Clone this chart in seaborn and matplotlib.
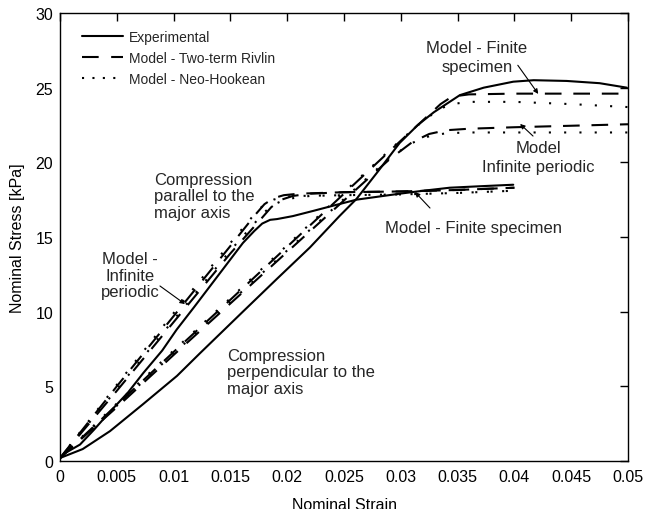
import matplotlib
matplotlib.use("Agg")
import matplotlib.pyplot as plt
from matplotlib.lines import Line2D
import numpy as np
import pandas as pd
import seaborn as sns

# ---------------- data ----------------
# Experimental, compression parallel to the major axis
strain_exp_par = [0, 0.0005, 0.00176, 0.003, 0.0044, 0.006, 0.00734, 0.009, 0.01027, 0.0118,
                  0.0132, 0.0147, 0.0161, 0.0171, 0.0178, 0.0185, 0.0191, 0.0205, 0.0223,
                  0.0238, 0.0261, 0.028, 0.0299, 0.032, 0.0343, 0.037, 0.0399]
stress_exp_par = [0.2, 0.55, 1.1, 2.1, 3.3, 4.6, 5.9, 7.4, 8.8, 10.3,
                  11.7, 13.2, 14.6, 15.4, 15.9, 16.15, 16.2, 16.4, 16.75,
                  17.05, 17.5, 17.7, 17.9, 18.1, 18.3, 18.4, 18.5]

# Experimental, compression perpendicular to the major axis
strain_exp_perp = [0, 0.002, 0.0044, 0.0073, 0.0103, 0.0123, 0.0161, 0.0191, 0.022, 0.0246,
                   0.0261, 0.028, 0.0299, 0.0315, 0.0329, 0.0352, 0.0373, 0.0399, 0.0417,
                   0.0446, 0.0475, 0.0499]
stress_exp_perp = [0.2, 0.8, 2.0, 3.8, 5.7, 7.2, 10.0, 12.2, 14.3, 16.4,
                   17.55, 19.4, 21.3, 22.5, 23.35, 24.5, 25.0, 25.4, 25.5,
                   25.45, 25.3, 25.0]

# Models, parallel: infinite periodic
strain_par_inf = [0, 0.005, 0.01, 0.015, 0.0172, 0.0180, 0.0188, 0.0197, 0.021, 0.025, 0.03, 0.035, 0.04]
stress_par_inf_rivlin = [0.2, 5.0, 9.7, 14.4, 16.5, 17.2, 17.6, 17.8, 17.9, 18.0, 18.05, 18.15, 18.3]
stress_par_inf_neo = [0.2, 5.1, 9.9, 14.6, 16.6, 17.2, 17.5, 17.7, 17.75, 17.8, 17.85, 17.95, 18.1]

# Models, parallel: finite specimen
strain_par_fin = [0, 0.005, 0.01, 0.015, 0.0178, 0.0186, 0.0195, 0.0205, 0.022, 0.025, 0.03, 0.035, 0.04]
stress_par_fin_rivlin = [0.2, 4.7, 9.3, 13.9, 16.3, 17.0, 17.5, 17.75, 17.9, 18.0, 18.05, 18.15, 18.3]
stress_par_fin_neo = [0.2, 4.8, 9.45, 14.1, 16.5, 17.1, 17.4, 17.6, 17.75, 17.8, 17.85, 17.95, 18.1]

# Models, perpendicular: finite specimen
strain_perp_fin = [0, 0.005, 0.01, 0.015, 0.02, 0.025, 0.03, 0.032, 0.0335, 0.0345, 0.036, 0.04, 0.045, 0.05]
stress_perp_fin_rivlin = [0.2, 3.75, 7.3, 10.8, 14.35, 17.9, 21.45, 22.85, 23.9, 24.4, 24.55, 24.6, 24.6, 24.6]
stress_perp_fin_neo = [0.2, 3.85, 7.4, 10.9, 14.45, 18.0, 21.5, 22.8, 23.6, 23.9, 24.05, 24.05, 23.9, 23.7]

# Models, perpendicular: infinite periodic
strain_perp_inf = [0, 0.005, 0.01, 0.015, 0.02, 0.025, 0.029, 0.031, 0.0325, 0.034, 0.036, 0.04, 0.045, 0.05]
stress_perp_inf_rivlin = [0.2, 3.6, 7.1, 10.55, 14.0, 17.45, 20.2, 21.35, 21.9, 22.15, 22.25, 22.35, 22.45, 22.55]
stress_perp_inf_neo = [0.2, 3.7, 7.2, 10.65, 14.1, 17.55, 20.3, 21.3, 21.75, 21.95, 22.0, 22.0, 22.0, 22.0]

x_ticks = [0, 0.005, 0.01, 0.015, 0.02, 0.025, 0.03, 0.035, 0.04, 0.045, 0.05]
x_tick_labels = ["0", "0.005", "0.01", "0.015", "0.02", "0.025", "0.03", "0.035", "0.04", "0.045", "0.05"]
y_ticks = [0, 5, 10, 15, 20, 25, 30]
legend_labels = ["Experimental", "Model - Two-term Rivlin", "Model - Neo-Hookean"]

# ---------------- style ----------------
sns.set_theme(style="white")
plt.rcParams["font.family"] = ["Liberation Sans", "DejaVu Sans"]
plt.rcParams["lines.scale_dashes"] = False
plt.rcParams["axes.edgecolor"] = "black"
plt.rcParams["axes.linewidth"] = 1.0

SOLID = "-"
DASHED = (0, (12, 8.5))
DOTTED = (0, (1.5, 9.5))
LW = 1.5

fig = plt.figure(figsize=(6.45, 5.10), dpi=100)
ax = fig.add_axes([60 / 645, 48 / 510, 568 / 645, 448 / 510])


def draw(x, y, ls):
    df = pd.DataFrame({"strain": x, "stress": y})
    sns.lineplot(data=df, x="strain", y="stress", ax=ax, color="black", lw=LW,
                 linestyle=ls, sort=False, estimator=None, legend=False)


draw(strain_par_inf, stress_par_inf_rivlin, DASHED)
draw(strain_par_inf, stress_par_inf_neo, DOTTED)
draw(strain_par_fin, stress_par_fin_rivlin, DASHED)
draw(strain_par_fin, stress_par_fin_neo, DOTTED)
draw(strain_perp_fin, stress_perp_fin_rivlin, DASHED)
draw(strain_perp_fin, stress_perp_fin_neo, DOTTED)
draw(strain_perp_inf, stress_perp_inf_rivlin, DASHED)
draw(strain_perp_inf, stress_perp_inf_neo, DOTTED)
draw(strain_exp_par, stress_exp_par, SOLID)
draw(strain_exp_perp, stress_exp_perp, SOLID)

ax.set_xlim(0, 0.05)
ax.set_ylim(0, 30)
ax.set_xticks(x_ticks)
ax.set_xticklabels(x_tick_labels)
ax.set_yticks(y_ticks)
ax.tick_params(direction="in", length=6, width=1, top=True, right=True,
               labelsize=11.5, colors="black", pad=5)
ax.tick_params(axis="x", pad=6)
for s in ax.spines.values():
    s.set_visible(True)
    s.set_color("black")
    s.set_linewidth(1.0)

ax.set_xlabel("Nominal Strain", fontsize=11.5, color="black")
ax.set_ylabel("Nominal Stress [kPa]", fontsize=11.5, color="black")
ax.xaxis.set_label_coords(0.5, -0.08)
ax.xaxis.label.set_va("top")
ax.yaxis.set_label_coords(-0.062, 0.5)

# legend
handles = [Line2D([], [], color="black", lw=LW, linestyle=SOLID),
           Line2D([], [], color="black", lw=LW, linestyle=(0, (12, 9))),
           Line2D([], [], color="black", lw=LW, linestyle=(0, (1.5, 6)))]
ax.legend(handles, legend_labels, loc="upper left", bbox_to_anchor=(22 / 568, (462 - 31) / 448),
          frameon=False, fontsize=10, handlelength=2.95, handletextpad=0.45,
          labelspacing=0.5, borderaxespad=0, borderpad=0)

# annotations
TFS = 12
arrow = dict(arrowstyle="-|>", color="black", lw=0.8, mutation_scale=7, shrinkA=0, shrinkB=0)

ax.text(0.0367, 27.05, "Model - Finite\nspecimen", ha="center", va="center",
        multialignment="center", fontsize=TFS, linespacing=1.35)
ax.annotate("", xy=(0.0421, 24.58), xytext=(0.0403, 26.5), arrowprops=arrow)

ax.text(0.04208, 20.35, "Model\nInfinite periodic", ha="center", va="center",
        multialignment="center", fontsize=TFS, linespacing=1.3)
ax.annotate("", xy=(0.0405, 22.57), xytext=(0.04164, 21.76), arrowprops=arrow)

ax.text(0.03636, 15.62, "Model - Finite specimen", ha="center", va="center", fontsize=TFS)
ax.annotate("", xy=(0.03125, 18.01), xytext=(0.03257, 16.94), arrowprops=arrow)

ax.text(0.00616, 12.45, "Model -\nInfinite\nperiodic", ha="center", va="center",
        multialignment="center", fontsize=TFS, linespacing=1.12)
ax.annotate("", xy=(0.0110, 10.51), xytext=(0.0088, 11.72), arrowprops=arrow)

ax.text(0.00827, 17.75, "Compression\nparallel to the\nmajor axis", ha="left", va="center",
        fontsize=TFS, linespacing=1.12)
ax.text(0.0147, 5.96, "Compression\nperpendicular to the\nmajor axis", ha="left", va="center",
        fontsize=TFS, linespacing=1.12)

fig.savefig("out.png", dpi=100)
